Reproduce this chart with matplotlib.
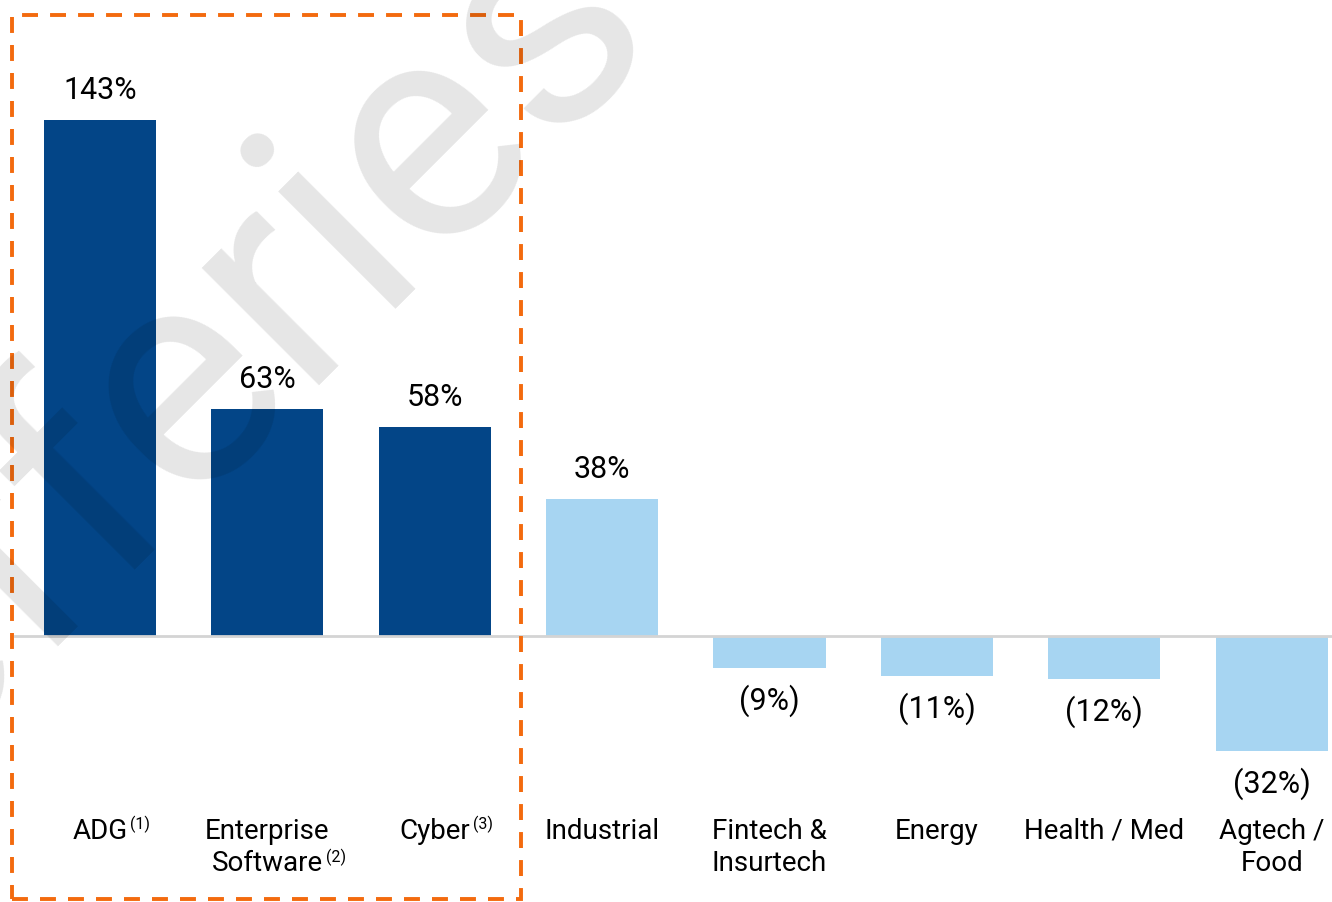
import numpy as np
import matplotlib
matplotlib.use("Agg")
import matplotlib.pyplot as plt
from matplotlib.patches import Rectangle
from matplotlib.font_manager import FontProperties

plt.rcParams['font.family'] = ['Roboto', 'DejaVu Sans']

categories = [["ADG"], ["Enterprise", "Software"], ["Cyber"], ["Industrial"],
              ["Fintech &", "Insurtech"], ["Energy"], ["Health / Med"], ["Agtech /", "Food"]]
notes = ["(1)", "(2)", "(3)", "", "", "", "", ""]
growth = [143, 63, 58, 38, -9, -11, -12, -32]
n_highlight = 3

DARK = '#034587'
LIGHT = '#A7D5F2'
ORANGE = '#F36A0E'

W, H = 1332, 902
fig = plt.figure(figsize=(W / 100, H / 100), dpi=100)
ax = fig.add_axes([0, 0, 1, 1])
ax.axis('off')
ax.set_xlim(-0.597, 7.36)
ax.set_ylim(-73.7, 176.2)

x = list(range(len(growth)))
colors = [DARK if i < n_highlight else LIGHT for i in x]
ax.bar(x, growth, width=0.67, color=colors, zorder=2)
ax.axhline(0, xmin=0.011, xmax=1, color='#D4D4D4', lw=2, zorder=3)

# value labels, negatives in accounting style
for xi, v in zip(x, growth):
    txt = f"{v}%" if v >= 0 else f"({-v}%)"
    ax.annotate(txt, (xi, v), xytext=(0, 21.2 if v >= 0 else -23.5),
                textcoords='offset points', ha='center', va='center',
                fontsize=22, color='black')

# category labels under the chart, with footnote markers
trans = ax.get_xaxis_transform()
line_y = [0.0787, 0.0431]
for xi, lines, note in zip(x, categories, notes):
    last = None
    for li, line in enumerate(lines):
        last = ax.text(xi, line_y[li], line, transform=trans, ha='center',
                       va='center', fontsize=20, color='black')
    if note:
        ax.annotate(note, xy=(1, 1), xycoords=last, xytext=(2, 1),
                    textcoords='offset points', ha='left', va='top',
                    fontsize=11.5, color='black')

# dashed box around the highlighted group
box = Rectangle((-0.526, -72.85), 2.515 + 0.526, 172.0 + 72.85, fill=False,
                edgecolor=ORANGE, lw=2.8, linestyle=(0, (4.1, 3.1)), zorder=4,
                clip_on=False)
ax.add_patch(box)

# watermark: place the "e" after the "i" at a fixed spot, word at 45 degrees
wm_text = "Jefferies"
wm_prop = FontProperties(family='Roboto', size=225)
renderer = fig.canvas.get_renderer()
adv_i, _, _ = renderer.get_text_width_height_descent("Jefferi", wm_prop, ismath=False)
adv_e, _, _ = renderer.get_text_width_height_descent("e", wm_prop, ismath=False)
em_px = 225 * 100 / 72
along = adv_i + adv_e / 2
up = 0.264 * em_px
ang = np.radians(45)
ex, ey = 432, H - 148
sx = ex - along * np.cos(ang) + up * np.sin(ang)
sy = ey - along * np.sin(ang) - up * np.cos(ang)
fig.text(sx / W, sy / H, wm_text, rotation=45, rotation_mode='anchor',
         ha='left', va='baseline', fontproperties=wm_prop,
         color='black', alpha=0.1, zorder=10)

fig.savefig('out.png', dpi=100)
